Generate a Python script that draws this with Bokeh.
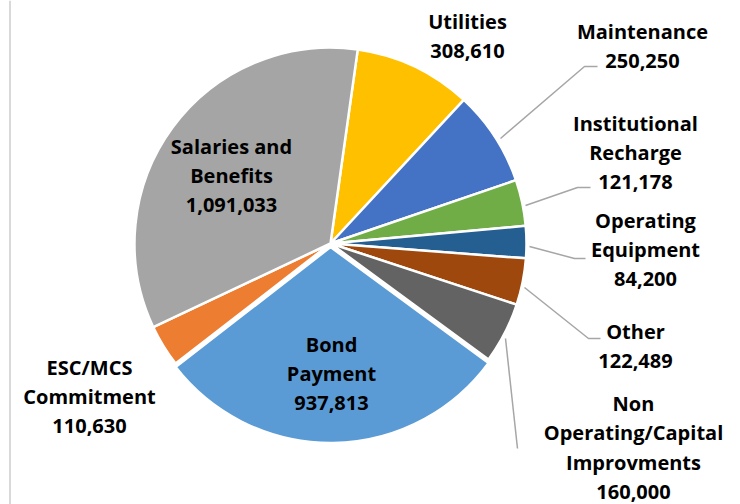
import math
from bokeh.plotting import figure
from bokeh.models import Range1d, ColumnDataSource, Span
from bokeh.core.properties import value
from bokeh.embed import file_html
from bokeh.resources import INLINE

# ---- data ----
categories = ["Utilities", "Maintenance", "Institutional Recharge", "Operating Equipment",
              "Other", "Non Operating/Capital Improvments", "Bond Payment",
              "ESC/MCS Commitment", "Salaries and Benefits"]
label_lines = [["Utilities"], ["Maintenance"], ["Institutional", "Recharge"],
               ["Operating", "Equipment"], ["Other"],
               ["Non", "Operating/Capital", "Improvments"], ["Bond", "Payment"],
               ["ESC/MCS", "Commitment"], ["Salaries and", "Benefits"]]
amounts = [308610, 250250, 121178, 84200, 122489, 160000, 937813, 110630, 1091033]
colors = ["#FFC000", "#4472C4", "#70AD47", "#255E91", "#9E480E", "#636363",
          "#5B9BD5", "#ED7D31", "#A5A5A5"]

# ---- layout (page pixel positions) ----
W, H = 740, 504
def X(px): return px
def Y(py): return H - py

CX, CY, R = 330, 243, 196
FIRST_ANGLE = 8.0
explode = {"Bond Payment": 3.5}
LINE_SP = 29.5

label_pos = {
    "Utilities": (467, 36),
    "Maintenance": (642, 46),
    "Institutional Recharge": (635, 152),
    "Operating Equipment": (645, 249),
    "Other": (635, 346),
    "Non Operating/Capital Improvments": (633, 447),
    "Bond Payment": (331, 373),
    "ESC/MCS Commitment": (89, 396),
    "Salaries and Benefits": (231, 175),
}
leaders = {
    "Maintenance": [(500, 138), (584, 66), (597, 66)],
    "Institutional Recharge": [(525, 205), (577, 187), (590, 187)],
    "Operating Equipment": [(529, 246), (574, 258), (585, 258)],
    "Other": [(524, 287), (588, 338), (600, 338)],
    "Non Operating/Capital Improvments": [(505, 338), (517, 448)],
}

total = float(sum(amounts))
xs, ys, sa, ea = [], [], [], []
t = FIRST_ANGLE
for cat, amt in zip(categories, amounts):
    span = 360.0 * amt / total
    t1, t2 = t, t + span
    mid = math.radians((t1 + t2) / 2)
    e = explode.get(cat, 0.0)
    xs.append(X(CX) + e * math.sin(mid))
    ys.append(Y(CY) + e * math.cos(mid))
    sa.append(math.radians(90 - t1))
    ea.append(math.radians(90 - t2))
    t = t2

src = ColumnDataSource(dict(x=xs, y=ys, sa=sa, ea=ea, color=colors, cat=categories))

p = figure(width=W, height=H, output_backend="svg", toolbar_location=None,
           x_range=Range1d(0, W), y_range=Range1d(0, H), min_border=0)
p.axis.visible = False
p.grid.visible = False
p.outline_line_color = None
p.background_fill_color = "white"
p.border_fill_color = "white"

p.wedge(x="x", y="y", radius=R, start_angle="sa", end_angle="ea", direction="clock",
        fill_color="color", line_color="white", line_width=2.5, source=src)

# leader lines
lx, ly = [], []
for cat in categories:
    if cat in leaders:
        pts = leaders[cat]
        lx.append([X(a) for a, b in pts])
        ly.append([Y(b) for a, b in pts])
p.multi_line(lx, ly, line_color="#A6A6A6", line_width=1.5)

# labels (one text per line)
tx, ty, tt = [], [], []
for cat, lines, amt in zip(categories, label_lines, amounts):
    px, py = label_pos[cat]
    rows = lines + [f"{amt:,}"]
    n = len(rows)
    for i, row in enumerate(rows):
        tx.append(X(px))
        ty.append(Y(py + (i - (n - 1) / 2) * LINE_SP))
        tt.append(row)
p.text(x=tx, y=ty, text=tt, text_align="center", text_baseline="middle",
       text_font=value("Open Sans"), text_font_style="bold", text_font_size="20px",
       text_color="#000000")

# left border line of the chart area
p.add_layout(Span(location=X(9.5), dimension="height", line_color="#D9D9D9", line_width=2))

open("out.html", "w").write(file_html(p, INLINE))
